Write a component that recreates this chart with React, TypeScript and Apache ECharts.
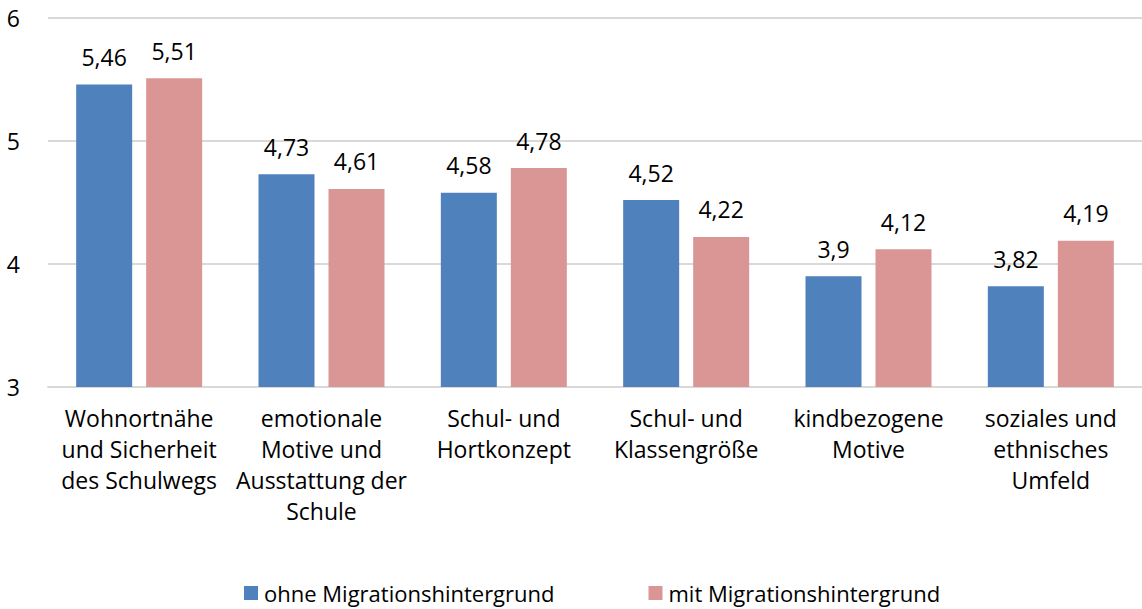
import React, { useEffect, useRef } from "react";
import * as echarts from "echarts";

const categories = [
  "Wohnortnähe\nund Sicherheit\ndes Schulwegs",
  "emotionale\nMotive und\nAusstattung der\nSchule",
  "Schul- und\nHortkonzept",
  "Schul- und\nKlassengröße",
  "kindbezogene\nMotive",
  "soziales und\nethnisches\nUmfeld",
];
const seriesNames = ["ohne Migrationshintergrund", "mit Migrationshintergrund"];
const ohneValues = [5.46, 4.73, 4.58, 4.52, 3.9, 3.82];
const mitValues = [5.51, 4.61, 4.78, 4.22, 4.12, 4.19];
const yTicks = [3, 4, 5, 6];

const FONT = "'Open Sans', sans-serif";
const FS = 23;
const COLORS = ["#4F81BD", "#D99694"];

export default function App() {
  const ref = useRef<HTMLDivElement>(null);
  useEffect(() => {
    if (!ref.current) return;
    const chart = echarts.init(ref.current, null, { renderer: "svg" });
    const fmt = (p: any) => String(p.value).replace(".", ",");
    const mkSeries = (name: string, data: number[], color: string) => ({
      name,
      type: "bar",
      data,
      barWidth: 56,
      barGap: "25%",
      itemStyle: { color },
      label: {
        show: true,
        position: "top",
        distance: 16,
        formatter: fmt,
        fontFamily: FONT,
        fontSize: FS,
        color: "#000",
      },
    });
    chart.setOption({
      animation: false,
      textStyle: { fontFamily: FONT },
      grid: { left: 48, right: -10, top: 18, bottom: 222, containLabel: false },
      legend: {
        top: 577,
        left: 239,
        icon: "rect",
        itemWidth: 14,
        itemHeight: 14,
        itemGap: 94,
        textStyle: {
          fontFamily: FONT,
          fontSize: 22,
          lineHeight: 20,
          color: "#000",
          padding: [0, 0, 0, 1],
        },
        data: seriesNames,
      },
      xAxis: {
        type: "category",
        data: categories,
        axisLine: { show: true, lineStyle: { color: "#D9D9D9", width: 2 } },
        axisTick: { show: false },
        axisLabel: {
          interval: 0,
          margin: 15,
          fontFamily: FONT,
          fontSize: FS,
          lineHeight: 31,
          color: "#000",
          align: "center",
        },
      },
      yAxis: {
        type: "value",
        min: yTicks[0],
        max: yTicks[yTicks.length - 1],
        interval: 1,
        axisLine: { show: false },
        axisTick: { show: false },
        splitLine: { lineStyle: { color: "#D9D9D9", width: 2 } },
        axisLabel: {
          margin: 28,
          fontFamily: FONT,
          fontSize: FS,
          color: "#000",
        },
      },
      series: [
        mkSeries(seriesNames[0], ohneValues, COLORS[0]),
        mkSeries(seriesNames[1], mitValues, COLORS[1]),
      ],
    });
    return () => chart.dispose();
  }, []);
  return (
    <div
      ref={ref}
      style={{ position: "absolute", left: 0, top: 0, width: 1142, height: 609, background: "#fff" }}
    />
  );
}
